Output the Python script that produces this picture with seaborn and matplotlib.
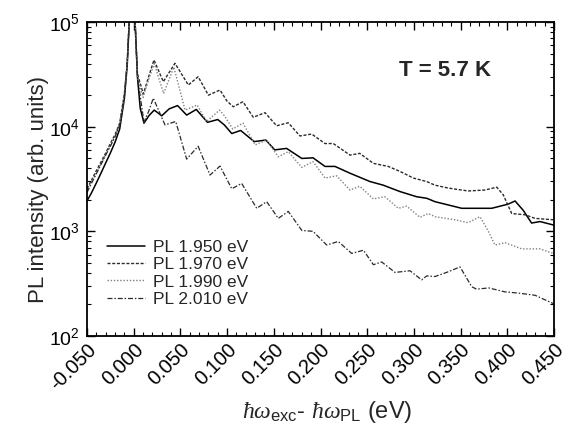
import numpy as np
import pandas as pd
import matplotlib
matplotlib.use("Agg")
import matplotlib.pyplot as plt
import seaborn as sns
from matplotlib.ticker import MultipleLocator, LogLocator, FixedLocator
from matplotlib.lines import Line2D

# ---------------- data ----------------
labels = ["PL 1.950 eV", "PL 1.970 eV", "PL 1.990 eV", "PL 2.010 eV"]

x_left = [-0.050, -0.045, -0.040, -0.035, -0.030, -0.025, -0.020, -0.015,
          -0.010, -0.007, -0.005, -0.003, 0.000, 0.0015, 0.004]

x_1950 = x_left + [0.007, 0.011, 0.0165, 0.022, 0.030, 0.038, 0.047, 0.0567,
                   0.067, 0.079, 0.090, 0.097, 0.105, 0.1145, 0.129, 0.1415,
                   0.151, 0.1637, 0.180, 0.192, 0.2048, 0.2155, 0.2316, 0.253,
                   0.2672, 0.285, 0.303, 0.3137, 0.3226, 0.3512, 0.3833, 0.401,
                   0.4083, 0.417, 0.426, 0.435, 0.4493]
y_1950 = [1950, 2350, 2900, 3600, 4500, 5600, 7100, 9500,
          18500, 38000, 90000, 400000, 400000, 100000, 30000,
          15000, 10800, 12800, 14400, 12700, 14800, 15900, 12900,
          14600, 11000, 11700, 10400, 8600, 9200, 7200, 7450,
          6000, 6200, 4970, 5040, 4170, 4170, 3590, 2990,
          2760, 2400, 2140, 2070, 1920, 1660, 1660, 1820,
          1950, 1590, 1200, 1240, 1150]

x_1970 = x_left + [0.0103, 0.016, 0.0217, 0.0317, 0.0442, 0.0585, 0.069, 0.080,
                   0.0924, 0.100, 0.1066, 0.117, 0.128, 0.1406, 0.153, 0.1655,
                   0.178, 0.1906, 0.2048, 0.2137, 0.2316, 0.242, 0.2566, 0.2725,
                   0.285, 0.2994, 0.3137, 0.3226, 0.3368, 0.358, 0.376, 0.3887,
                   0.3957, 0.4047, 0.419, 0.4297, 0.4493]
y_1970 = [2550, 3100, 3800, 4600, 5600, 6900, 8400, 10800,
          20500, 41000, 95000, 400000, 400000, 100000, 32000,
          20500, 30000, 43400, 26900, 40300, 25000, 30000, 20000,
          22400, 17500, 15500, 17300, 12300, 13600, 10200, 10900,
          8150, 8500, 6900, 6900, 5350, 5560, 4460, 4170,
          3740, 3230, 2990, 2760, 2590, 2430, 2480, 2640,
          2230, 1480, 1440, 1330, 1290]

x_1990 = x_left + [0.010, 0.016, 0.022, 0.032, 0.043, 0.055, 0.068, 0.078,
                   0.092, 0.0978, 0.106, 0.117, 0.130, 0.1424, 0.1548, 0.1655,
                   0.180, 0.192, 0.2048, 0.2173, 0.2316, 0.242, 0.2566, 0.269,
                   0.2833, 0.2923, 0.3065, 0.3154, 0.3226, 0.344, 0.358, 0.3708,
                   0.3797, 0.3868, 0.3975, 0.4154, 0.435, 0.4493]
y_1990 = [2400, 2950, 3600, 4400, 5400, 6600, 8100, 10500,
          20000, 40000, 92000, 400000, 400000, 100000, 30000,
          19000, 28000, 40000, 20800, 37000, 14400, 16100, 11200,
          14400, 12500, 9500, 10800, 6700, 7450, 5150, 5770,
          4080, 4640, 3230, 3390, 2480, 2700, 2040, 2140,
          1660, 1740, 1360, 1480, 1380, 1290, 1210, 1380,
          1000, 740, 780, 680, 680, 615]

x_2010 = x_left + [0.011, 0.016, 0.021, 0.0335, 0.045, 0.0567, 0.069, 0.0817,
                   0.0924, 0.105, 0.1156, 0.1317, 0.1424, 0.1548, 0.1655, 0.180,
                   0.192, 0.2066, 0.219, 0.2334, 0.246, 0.2566, 0.2655, 0.2798,
                   0.2958, 0.3083, 0.3137, 0.3226, 0.335, 0.3494, 0.3619, 0.367,
                   0.380, 0.3975, 0.4118, 0.4297, 0.4493]
y_2010 = [2350, 2900, 3550, 4350, 5350, 6500, 8000, 10400,
          19500, 39000, 90000, 400000, 400000, 100000, 30000,
          11000, 14000, 18700, 10400, 11200, 4900, 6500, 3450,
          4200, 2550, 2870, 1660, 1920, 1330, 1550, 1020,
          1000, 740, 800, 615, 660, 480, 510, 405,
          420, 344, 375, 370, 405, 457, 296, 280,
          288, 264, 257, 245, 204]

x_ticks = [-0.050, 0.000, 0.050, 0.100, 0.150, 0.200, 0.250, 0.300, 0.350, 0.400, 0.450]
x_ticklabels = ["-0.050", "0.000", "0.050", "0.100", "0.150", "0.200",
                "0.250", "0.300", "0.350", "0.400", "0.450"]

frames = []
for lab, xs, ys in [(labels[0], x_1950, y_1950), (labels[1], x_1970, y_1970),
                    (labels[2], x_1990, y_1990), (labels[3], x_2010, y_2010)]:
    frames.append(pd.DataFrame({"x": xs, "y": ys, "series": lab}))
df = pd.concat(frames, ignore_index=True)

# ---------------- style ----------------
sns.set_style("ticks")
plt.rcParams["font.family"] = ["Liberation Sans", "DejaVu Sans"]
plt.rcParams["mathtext.fontset"] = "custom"
plt.rcParams["mathtext.rm"] = "Liberation Sans"
plt.rcParams["mathtext.it"] = "Liberation Serif:italic"
plt.rcParams["mathtext.sf"] = "Liberation Sans"

fig = plt.figure(figsize=(5.70, 4.34), dpi=100)
ax = fig.add_axes([87/570, 1-336/434, (554-87)/570, (336-22)/434])

palette = {labels[0]: "#000000", labels[1]: "#2a2a2a", labels[2]: "#808080", labels[3]: "#2a2a2a"}
dashes = {labels[0]: "", labels[1]: (2.2, 1.2), labels[2]: (1, 1.3), labels[3]: (4, 1.5, 1.2, 1.5)}
widths = {labels[0]: 1.1, labels[1]: 1.0, labels[2]: 1.0, labels[3]: 0.9}

sns.lineplot(data=df, x="x", y="y", hue="series", style="series",
             palette=palette, dashes=dashes, sort=False, estimator=None,
             ax=ax, legend=False, linewidth=1.0)
for line, lab in zip(ax.get_lines(), labels):
    line.set_linewidth(widths[lab])

ax.set_yscale("log")
ax.set_xlim(-0.050, 0.450)
ax.set_ylim(1e2, 1e5)

ax.xaxis.set_major_locator(FixedLocator(x_ticks))
ax.set_xticklabels(x_ticklabels, rotation=45, ha="right", rotation_mode="anchor")
ax.xaxis.set_minor_locator(MultipleLocator(0.01))
ax.yaxis.set_major_locator(LogLocator(base=10, numticks=10))
ax.yaxis.set_minor_locator(LogLocator(base=10, subs=np.arange(2, 10), numticks=20))

ax.tick_params(which="both", direction="in", top=True, right=True, colors="black")
ax.tick_params(which="major", length=6, width=1.0, labelsize=14, pad=5)
ax.tick_params(which="minor", length=3, width=0.8)
ax.tick_params(axis="x", which="major", labelsize=14.5, pad=3)
for s in ax.spines.values():
    s.set_linewidth(1.3)
    s.set_color("black")

ax.set_ylabel("PL intensity (arb. units)", fontsize=16)
ax.yaxis.set_label_coords(-0.082, 0.465)
ax.set_xlabel(r"$\hbar\omega_{\mathsf{exc}}$- $\hbar\omega_{\mathsf{PL}}$ (eV)", fontsize=17, labelpad=4)
ax.xaxis.label.set_x(0.515)

ax.text(0.767, 0.844, "T = 5.7 K", transform=ax.transAxes, fontsize=16,
        fontweight="bold", ha="center", va="center")

handles = []
for lab in labels:
    d = dashes[lab]
    ls = "-" if d == "" else (0, d)
    handles.append(Line2D([0], [0], color=palette[lab], lw=widths[lab], linestyle=ls))
ax.legend(handles, labels, loc="lower left", bbox_to_anchor=(0.02, 0.06),
          frameon=False, fontsize=12.5, handlelength=2.2, handletextpad=0.45,
          labelspacing=0.12, borderaxespad=0.2)

fig.savefig("out.png", dpi=100)
